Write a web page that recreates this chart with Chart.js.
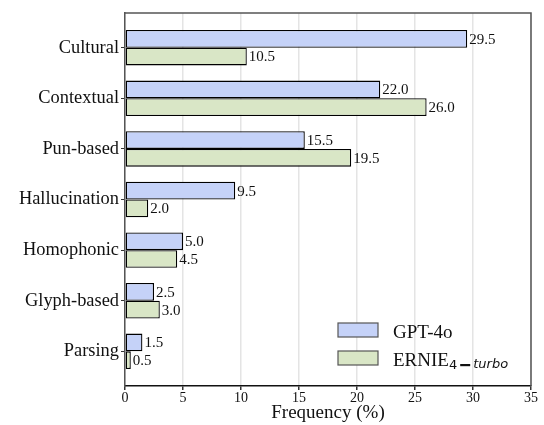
<!DOCTYPE html>
<html>
<head>
<meta charset="utf-8">
<script src="https://cdn.jsdelivr.net/npm/chart.js@4"></script>
<style>
  html, body { margin: 0; padding: 0; background: #fff; }
  #wrap { width: 544px; height: 425px; position: relative; }
</style>
</head>
<body>
<div id="wrap"><canvas id="freqChart"></canvas></div>
<script>
// categories, top to bottom
const categories = ['Cultural', 'Contextual', 'Pun-based', 'Hallucination', 'Homophonic', 'Glyph-based', 'Parsing'];
const gptValues = [29.5, 22.0, 15.5, 9.5, 5.0, 2.5, 1.5];
const ernieValues = [10.5, 26.0, 19.5, 2.0, 4.5, 3.0, 0.5];
const xTicks = [0, 5, 10, 15, 20, 25, 30, 35];

const SERIF = '"Liberation Serif", "Times New Roman", serif';
const SANS = '"DejaVu Sans", sans-serif';
const BLUE = 'rgb(197, 210, 248)';
const GREEN = 'rgb(217, 230, 198)';

// number next to the end of each bar
const valueLabels = {
    id: 'valueLabels',
    afterDatasetsDraw(chart) {
        const ctx = chart.ctx;
        ctx.save();
        ctx.font = '15px ' + SERIF;
        ctx.fillStyle = '#111';
        ctx.textBaseline = 'middle';
        ctx.textAlign = 'left';
        chart.data.datasets.forEach((ds, di) => {
            chart.getDatasetMeta(di).data.forEach((bar, i) => {
                ctx.fillText(ds.raw[i].toFixed(1), bar.x + 2, bar.y + 1);
            });
        });
        ctx.restore();
    }
};

// top and right sides of the box
const frame = {
    id: 'frame',
    afterDraw(chart) {
        const a = chart.chartArea;
        const ctx = chart.ctx;
        ctx.save();
        ctx.strokeStyle = '#555';
        ctx.lineWidth = 1.5;
        ctx.beginPath();
        ctx.moveTo(a.left, a.top);
        ctx.lineTo(a.right, a.top);
        ctx.lineTo(a.right, a.bottom);
        ctx.stroke();
        ctx.restore();
    }
};

// legend with the subscript label
const customLegend = {
    id: 'customLegend',
    afterDraw(chart) {
        const a = chart.chartArea;
        const ctx = chart.ctx;
        const bx = a.right - 193;
        const tx = bx + 55;
        ctx.save();
        ctx.lineWidth = 1.2;
        ctx.strokeStyle = '#555';

        ctx.fillStyle = BLUE;
        ctx.fillRect(bx, 323, 40, 14);
        ctx.strokeRect(bx, 323, 40, 14);
        ctx.fillStyle = GREEN;
        ctx.fillRect(bx, 351, 40, 14);
        ctx.strokeRect(bx, 351, 40, 14);

        ctx.fillStyle = '#111';
        ctx.textBaseline = 'alphabetic';
        ctx.font = '19px ' + SERIF;
        ctx.fillText('GPT-4o', tx, 338);
        ctx.fillText('ERNIE', tx, 365.5);
        let x = tx + ctx.measureText('ERNIE').width;
        ctx.font = '13px ' + SANS;
        ctx.fillText('4', x, 369);
        x += ctx.measureText('4').width + 3;
        ctx.fillRect(x, 364, 10, 2.2);
        x += 13;
        ctx.font = 'italic 13px ' + SANS;
        ctx.fillText('turbo', x, 368);
        ctx.restore();
    }
};

const ctx = document.getElementById('freqChart').getContext('2d');
new Chart(ctx, {
    type: 'bar',
    data: {
        datasets: [{
            label: 'GPT-4o',
            raw: gptValues,
            data: gptValues.map((v, i) => ({ x: v, y: i })),
            backgroundColor: BLUE,
        }, {
            label: 'ERNIE4-turbo',
            raw: ernieValues,
            data: ernieValues.map((v, i) => ({ x: v, y: i })),
            backgroundColor: GREEN,
        }],
    },
    options: {
        indexAxis: 'y',
        responsive: true,
        maintainAspectRatio: false,
        animation: false,
        layout: { padding: { left: 0, right: 13, top: 13, bottom: 0 } },
        datasets: {
            bar: {
                categoryPercentage: 0.7,
                barPercentage: 1.0,
                borderColor: '#000',
                borderWidth: 1.3,
                borderSkipped: false,
            },
        },
        plugins: {
            legend: { display: false },
            tooltip: { enabled: false },
        },
        scales: {
            x: {
                type: 'linear',
                min: 0,
                max: 35,
                bounds: 'data',
                afterBuildTicks: (scale) => { scale.ticks = xTicks.map(v => ({ value: v })); },
                afterFit: (scale) => { scale.height = 39; },
                ticks: {
                    font: { family: SERIF, size: 14 },
                    color: '#111',
                    padding: 0,
                },
                grid: {
                    color: '#e4e4e4',
                    lineWidth: 1.5,
                    tickColor: '#333',
                    tickLength: 4,
                },
                border: { color: '#111', width: 1.5 },
                title: {
                    display: true,
                    text: 'Frequency (%)',
                    font: { family: SERIF, size: 19 },
                    color: '#111',
                    padding: { top: 0, bottom: 1 },
                },
            },
            y: {
                type: 'linear',
                reverse: true,
                offset: false,
                min: -0.685,
                max: 6.685,
                bounds: 'data',
                afterBuildTicks: (scale) => { scale.ticks = categories.map((c, i) => ({ value: i })); },
                afterFit: (scale) => { scale.width = 125; },
                ticks: {
                    font: { family: SERIF, size: 18.4 },
                    color: '#111',
                    padding: 2,
                    callback: (v) => categories[v] ?? '',
                },
                grid: {
                    offset: false,
                    drawOnChartArea: false,
                    tickColor: '#333',
                    tickLength: 4,
                },
                border: { color: '#555', width: 1.5 },
            },
        },
    },
    plugins: [valueLabels, frame, customLegend],
});
</script>
</body>
</html>
